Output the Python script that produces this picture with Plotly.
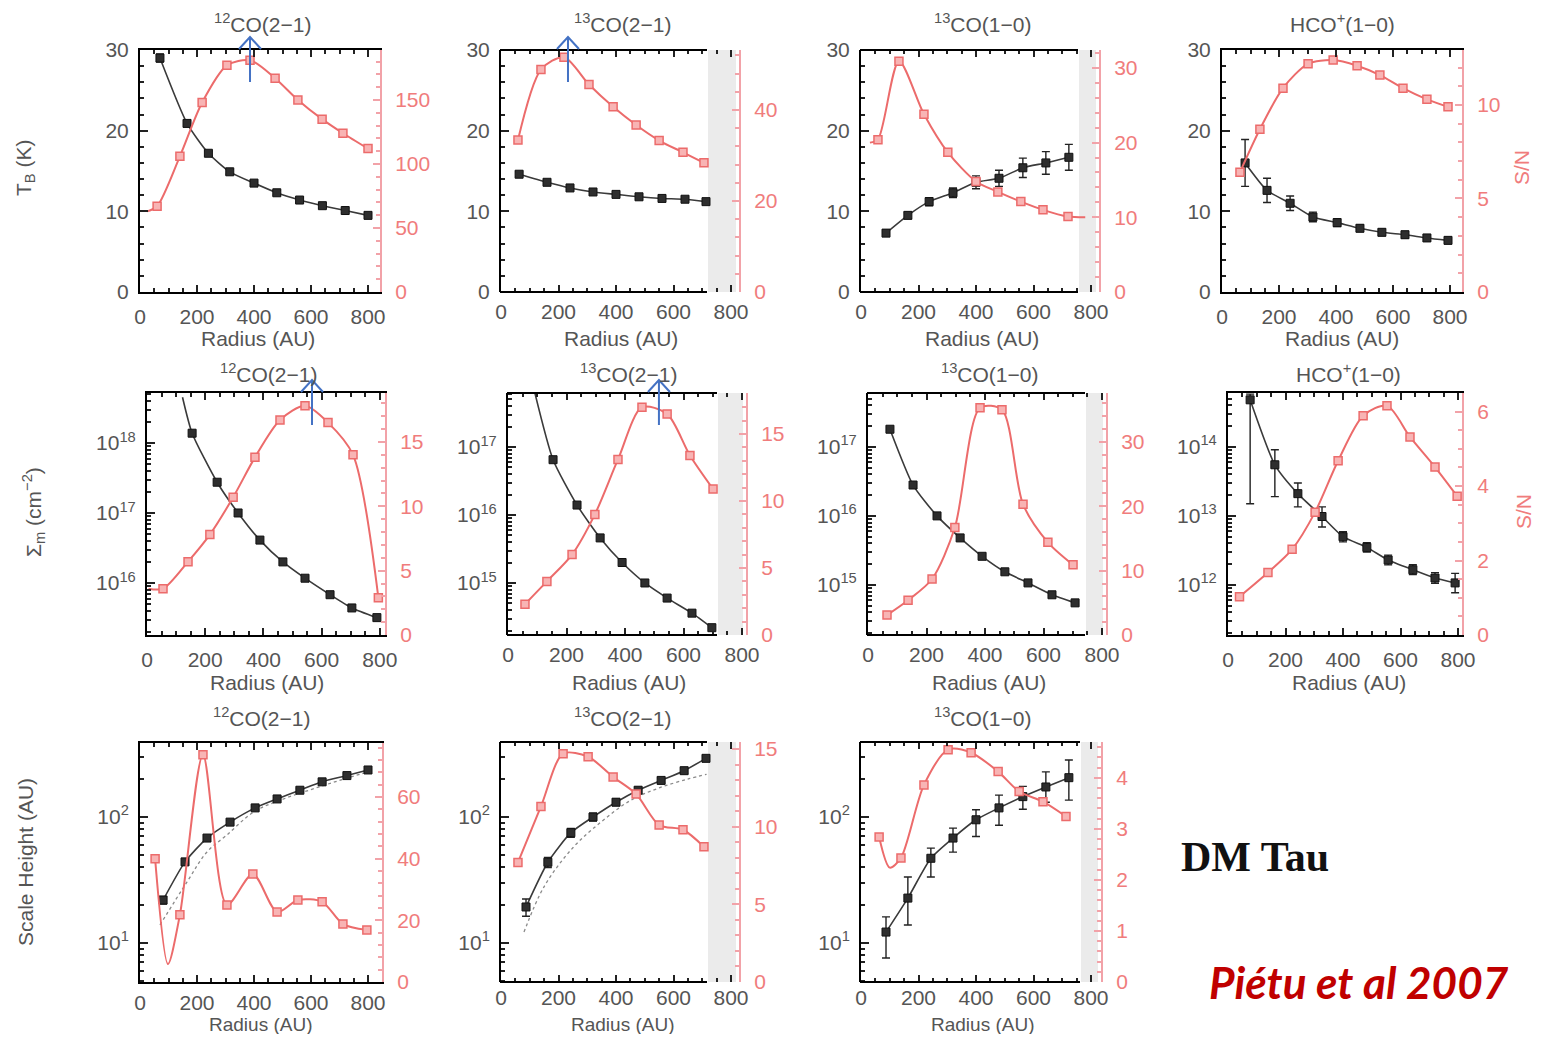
import plotly.graph_objects as go

W, H = 1544, 1042
OFF = 8                      # browser body margin
FW, FH = W - 2 * OFF, H - 2 * OFF

# ---------------- data ----------------
# Row 1 : brightness temperature T_B (K) (black) and S/N (red) vs radius (AU)
p1_r  = [70, 165, 240, 315, 400, 480, 560, 640, 720, 800]
p1_v  = [29.0, 20.9, 17.2, 14.9, 13.5, 12.3, 11.4, 10.7, 10.1, 9.5]
p1_e  = [0.5, 0.4, 0.3, 0.3, 0.3, 0.3, 0.3, 0.3, 0.3, 0.3]
p1_sr = [60, 140, 218, 305, 386, 474, 554, 639, 712, 800]
p1_sn = [67, 106, 148, 177, 181, 167, 150, 135, 124, 112]
p1_cr = [25, 60, 140, 218, 305, 386, 474, 554, 639, 712, 800]
p1_cn = [63, 67, 106, 148, 177, 181, 167, 150, 135, 124, 112]

p2_r  = [63, 160, 240, 320, 400, 480, 560, 640, 713]
p2_v  = [14.6, 13.6, 12.9, 12.4, 12.1, 11.8, 11.6, 11.5, 11.2]
p2_e  = [0.3, 0.3, 0.3, 0.3, 0.3, 0.3, 0.3, 0.3, 0.3]
p2_sr = [59, 139, 219, 306, 390, 470, 550, 633, 706]
p2_sn = [33.4, 48.9, 51.6, 45.6, 40.7, 36.7, 33.3, 30.7, 28.4]

p3_r  = [87, 163, 237, 320, 400, 480, 563, 643, 723]
p3_v  = [7.3, 9.5, 11.2, 12.3, 13.6, 14.1, 15.4, 16.0, 16.7]
p3_e  = [0.4, 0.4, 0.5, 0.6, 0.8, 1.0, 1.2, 1.4, 1.6]
p3_sr = [59, 132, 219, 302, 400, 476, 556, 633, 720]
p3_sn = [20.4, 30.9, 23.8, 18.7, 14.8, 13.4, 12.1, 11.0, 10.1]
p3_cr = [31, 59, 132, 219, 302, 400, 476, 556, 633, 720, 780]
p3_cn = [20.0, 20.4, 30.9, 23.8, 18.7, 14.8, 13.4, 12.1, 11.0, 10.1, 10.0]

p4_r  = [81, 158, 239, 319, 404, 484, 561, 642, 719, 793]
p4_v  = [16.0, 12.6, 11.0, 9.3, 8.6, 7.9, 7.4, 7.1, 6.7, 6.4]
p4_e  = [2.9, 1.5, 0.9, 0.6, 0.5, 0.4, 0.4, 0.4, 0.4, 0.4]
p4_sr = [63, 133, 214, 302, 390, 474, 554, 635, 719, 793]
p4_sn = [6.4, 8.7, 10.9, 12.2, 12.4, 12.1, 11.6, 10.9, 10.3, 9.9]

# Row 2 : surface density Sigma (cm^-2) (black, log) and S/N (red)
p5_r  = [155, 241, 313, 388, 467, 543, 629, 704, 790]
p5_v  = [1.38e18, 2.75e17, 1.0e17, 4.1e16, 2.0e16, 1.17e16, 6.8e15, 4.4e15, 3.2e15]
p5_br = [122, 155, 241, 313, 388, 467, 543, 629, 704, 790]
p5_bv = [4.5e18, 1.38e18, 2.75e17, 1.0e17, 4.1e16, 2.0e16, 1.17e16, 6.8e15, 4.4e15, 3.2e15]
p5_sr = [55, 141, 216, 296, 371, 457, 543, 622, 708, 795]
p5_sn = [3.6, 5.7, 7.8, 10.7, 13.8, 16.7, 17.8, 16.5, 14.0, 2.9]
p5_cr = [5, 55, 141, 216, 296, 371, 457, 543, 622, 708, 795]
p5_cn = [3.6, 3.6, 5.7, 7.8, 10.7, 13.8, 16.7, 17.8, 16.5, 14.0, 2.9]

p6_r  = [154, 236, 315, 390, 468, 544, 629, 697]
p6_v  = [6.5e16, 1.4e16, 4.6e15, 2.0e15, 1.0e15, 6.0e14, 3.6e14, 2.2e14]
p6_br = [92, 154, 236, 315, 390, 468, 544, 629, 697]
p6_bv = [6.2e17, 6.5e16, 1.4e16, 4.6e15, 2.0e15, 1.0e15, 6.0e14, 3.6e14, 2.2e14]
p6_sr = [58, 133, 219, 297, 376, 458, 544, 622, 701]
p6_sn = [2.3, 4.0, 6.0, 9.0, 13.1, 17.0, 16.5, 13.4, 10.9]

p7_r  = [75, 154, 236, 315, 390, 468, 547, 629, 708]
p7_v  = [1.8e17, 2.8e16, 1.0e16, 4.8e15, 2.6e15, 1.55e15, 1.07e15, 7.2e14, 5.5e14]
p7_sr = [65, 137, 219, 297, 383, 458, 530, 615, 701]
p7_sn = [3.1, 5.4, 8.7, 16.7, 35.3, 35.0, 20.3, 14.4, 10.9]

p8_r  = [77, 163, 243, 327, 400, 483, 557, 643, 720, 790]
p8_v  = [4.8e14, 5.5e13, 2.1e13, 9.8e12, 5.0e12, 3.5e12, 2.3e12, 1.66e12, 1.26e12, 1.07e12]
p8_ep = [1.0e14, 3.6e13, 0.9e13, 3.7e12, 0.9e12, 0.6e12, 0.4e12, 0.3e12, 0.25e12, 0.4e12]
p8_em = [4.65e14, 3.6e13, 0.75e13, 2.9e12, 0.8e12, 0.5e12, 0.35e12, 0.25e12, 0.2e12, 0.3e12]
p8_sr = [40, 139, 223, 303, 383, 470, 553, 633, 720, 797]
p8_sn = [1.03, 1.68, 2.30, 3.30, 4.68, 5.89, 6.16, 5.32, 4.51, 3.73]

# Row 3 : scale height (AU) (black, log) and S/N (red)
p9_r  = [81, 158, 235, 316, 404, 481, 561, 639, 726, 800]
p9_v  = [21.9, 44, 68, 91, 118, 139, 163, 190, 213, 236]
p9_e  = [1.5, 2.5, 3, 3, 4, 4, 5, 5, 6, 6]
p9_mr = [70, 165, 235, 305, 400, 500, 600, 700, 800]
p9_mv = [13.9, 30.5, 52.7, 72, 110, 138, 165, 195, 228]
p9_sr = [53, 140, 221, 305, 396, 481, 554, 639, 712, 796]
p9_sn = [40, 21.8, 73.7, 25, 35, 22.7, 26.6, 26, 18.8, 16.9]
p9_cr = [53, 98, 140, 221, 305, 396, 481, 554, 639, 712, 796]
p9_cn = [40, 5.8, 21.8, 73.7, 25, 35, 22.7, 26.6, 26, 18.8, 16.9]

p10_r  = [87, 163, 243, 320, 400, 477, 557, 637, 713]
p10_v  = [19.3, 43.7, 75, 100, 131, 163, 195, 233, 292]
p10_e  = [3, 4, 6, 7, 8, 9, 10, 12, 15]
p10_mr = [80, 150, 250, 350, 450, 550, 650, 715]
p10_mv = [12.2, 28, 57, 92, 135, 170, 200, 218]
p10_sr = [59, 139, 216, 303, 390, 470, 550, 633, 706]
p10_sn = [7.7, 11.3, 14.7, 14.5, 13.2, 12.1, 10.1, 9.8, 8.7]

p11_r  = [87, 163, 243, 320, 400, 480, 563, 643, 723]
p11_v  = [12.2, 22.7, 47, 68, 95, 118, 145, 173, 205]
p11_ep = [3.9, 10.7, 9.6, 13.6, 19, 31, 30, 55, 78]
p11_em = [4.6, 8.8, 13.6, 15.4, 25, 32, 30, 42, 69]
p11_sr = [63, 139, 219, 303, 383, 477, 550, 633, 713]
p11_sn = [2.84, 2.43, 3.86, 4.55, 4.49, 4.12, 3.73, 3.53, 3.24]
p11_cr = [63, 100, 139, 219, 303, 383, 477, 550, 633, 713]
p11_cn = [2.84, 2.24, 2.43, 3.86, 4.55, 4.49, 4.12, 3.73, 3.53, 3.24]

# tick labels / titles
x_ticks = [0, 200, 400, 600, 800]
titles = ["<sup>12</sup>CO(2−1)", "<sup>13</sup>CO(2−1)", "<sup>13</sup>CO(1−0)", "HCO<sup>+</sup>(1−0)"]
# blue arrows marking the S/N peaks (panel, radius AU)
arrow_panel = [1, 2, 5, 6]
arrow_r = [386, 233, 567, 516]

# ---------------- styling ----------------
RED = "#ec6b6b"
RED_FILL = "#f8b4b4"
RED_TXT = "#f07c7c"
RED_AX = "#f2a2a8"
TXT = "#555555"
FONT = "Liberation Sans"
FS = 21


def px(x):
    return (x - OFF) / FW


def py(y):
    return 1 - (y - OFF) / FH


def sup(n):
    return "10<sup>%d</sup>" % n


panels = [
    dict(t=titles[0], tp=(262, 23), fx=(140, 380), fy=(50, 292), sc=0.285, red=None, rl=(258, 338), rs=FS, xso=5,
         log=False, yl=[0, 30], ytv=[0, 10, 20, 30], ymin=2, yr=[0, 189], rtv=[0, 50, 100, 150], rmin=10,
         b=(p1_r, p1_v, p1_e, None), bc=None, m=None, s=(p1_sr, p1_sn), c=(p1_cr, p1_cn)),
    dict(t=titles[1], tp=(622, 23), fx=(501, 707), fy=(50, 292), sc=0.2875, red=740, rl=(621, 338), rs=FS, xso=5,
         log=False, yl=[0, 30], ytv=[0, 10, 20, 30], ymin=2, yr=[0, 53.2], rtv=[0, 20, 40], rmin=4,
         b=(p2_r, p2_v, p2_e, None), bc=None, m=None, s=(p2_sr, p2_sn), c=None),
    dict(t=titles[2], tp=(982, 23), fx=(861, 1078), fy=(50, 292), sc=0.2875, red=1100, rl=(982, 338), rs=FS, xso=5,
         log=False, yl=[0, 30], ytv=[0, 10, 20, 30], ymin=2, yr=[0, 32.4], rtv=[0, 10, 20, 30], rmin=2,
         b=(p3_r, p3_v, p3_e, None), bc=None, m=None, s=(p3_sr, p3_sn), c=(p3_cr, p3_cn)),
    dict(t=titles[3], tp=(1342, 23), fx=(1222, 1462), fy=(50, 292), sc=0.285, red=None, rl=(1342, 338), rs=FS, xso=5,
         log=False, yl=[0, 30], ytv=[0, 10, 20, 30], ymin=2, yr=[0, 12.94], rtv=[0, 5, 10], rmin=1,
         b=(p4_r, p4_v, p4_e, None), bc=None, m=None, s=(p4_sr, p4_sn), c=None),
    dict(t=titles[0], tp=(268, 373), fx=(147, 385), fy=(393, 635), sc=0.291, red=None, rl=(267, 682), rs=FS, xso=5,
         log=True, yl=[15.257, 18.714], dec=[16, 17, 18], yr=[0, 18.8], rtv=[0, 5, 10, 15], rmin=1,
         b=(p5_r, p5_v, None, None), bc=(p5_br, p5_bv), m=None, s=(p5_sr, p5_sn), c=(p5_cr, p5_cn)),
    dict(t=titles[1], tp=(628, 373), fx=(508, 717), fy=(393, 635), sc=0.2925, red=747, rl=(629, 682), rs=FS, xso=5,
         log=True, yl=[14.235, 17.794], dec=[15, 16, 17], yr=[0, 18.06], rtv=[0, 5, 10, 15], rmin=1,
         b=(p6_r, p6_v, None, None), bc=(p6_br, p6_bv), m=None, s=(p6_sr, p6_sn), c=None),
    dict(t=titles[2], tp=(989, 373), fx=(868, 1085), fy=(393, 635), sc=0.2925, red=1107, rl=(989, 682), rs=FS, xso=5,
         log=True, yl=[14.275, 17.78], dec=[15, 16, 17], yr=[0, 37.6], rtv=[0, 10, 20, 30], rmin=2,
         b=(p7_r, p7_v, None, None), bc=None, m=None, s=(p7_sr, p7_sn), c=None),
    dict(t=titles[3], tp=(1348, 373), fx=(1228, 1462), fy=(393, 635), sc=0.2875, red=None, rl=(1349, 682), rs=FS, xso=5,
         log=True, yl=[11.275, 14.78], dec=[12, 13, 14], yr=[0, 6.5], rtv=[0, 2, 4, 6], rmin=0.5,
         b=(p8_r, p8_v, p8_ep, p8_em), bc=None, m=None, s=(p8_sr, p8_sn), c=None),
    dict(t=titles[0], tp=(261, 717), fx=(140, 382), fy=(743, 982), sc=0.285, red=None, rl=(260, 1024), rs=19, xso=1,
         log=True, yl=[0.69, 2.587], dec=[1, 2], yr=[0, 77.5], rtv=[0, 20, 40, 60], rmin=4,
         b=(p9_r, p9_v, p9_e, None), bc=None, m=(p9_mr, p9_mv), s=(p9_sr, p9_sn), c=(p9_cr, p9_cn)),
    dict(t=titles[1], tp=(622, 717), fx=(501, 707), fy=(742, 982), sc=0.2875, red=740, rl=(622, 1024), rs=19, xso=1,
         log=True, yl=[0.69, 2.595], dec=[1, 2], yr=[0, 15.45], rtv=[0, 5, 10, 15], rmin=1,
         b=(p10_r, p10_v, p10_e, None), bc=None, m=(p10_mr, p10_mv), s=(p10_sr, p10_sn), c=None),
    dict(t=titles[2], tp=(982, 717), fx=(861, 1080), fy=(742, 982), sc=0.2875, red=1102, rl=(982, 1024), rs=19, xso=1,
         log=True, yl=[0.69, 2.595], dec=[1, 2], yr=[0, 4.7], rtv=[0, 1, 2, 3, 4], rmin=0.2,
         b=(p11_r, p11_v, p11_ep, p11_em), bc=None, m=None, s=(p11_sr, p11_sn), c=(p11_cr, p11_cn)),
]

fig = go.Figure()
layout = {}
annotations = []
shapes = []
N = len(panels)


def note(text, x, y, size=FS, color=TXT, family=FONT, angle=0):
    return dict(text=text, x=px(x), y=py(y), xref="paper", yref="paper", xanchor="center",
                yanchor="middle", showarrow=False, textangle=angle,
                font=dict(family=family, size=size, color=color))


for k, p in enumerate(panels):
    i = k + 1
    xa = "xaxis" if i == 1 else "xaxis%d" % i
    xr_ = "x" if i == 1 else "x%d" % i
    yl_ = "y" if i == 1 else "y%d" % i
    yr_id = i + N
    yr_ = "y%d" % yr_id
    fx0, fx1 = p["fx"]
    fy0, fy1 = p["fy"]
    right_px = p["red"] if p["red"] else fx1
    xmax = (right_px - fx0) / p["sc"]
    offset = p["red"] is not None

    tickfont = dict(family=FONT, size=FS, color=TXT)
    layout[xa] = dict(
        domain=[px(fx0), px(right_px)], anchor=yl_, range=[0, xmax], automargin=False,
        showline=not offset, linecolor="black", linewidth=2, mirror="ticks",
        ticks="inside", ticklen=7, tickwidth=1.5, tickcolor="#222",
        tickvals=x_ticks, ticktext=[str(v) for v in x_ticks],
        minor=dict(dtick=50, tick0=0, ticks="inside", ticklen=4, tickcolor="#222", showgrid=False),
        showgrid=False, zeroline=False, tickfont=tickfont, ticklabelstandoff=p["xso"])
    if offset:
        for yy in (fy0, fy1):
            shapes.append(dict(type="line", xref="paper", yref="paper",
                               x0=px(fx0 - 1), x1=px(fx1), y0=py(yy), y1=py(yy),
                               line=dict(color="black", width=2)))
        shapes.append(dict(type="rect", xref="paper", yref="paper", layer="below",
                           x0=px(fx1 + 1), x1=px(right_px - 4), y0=py(fy1), y1=py(fy0),
                           fillcolor="#ebebeb", line=dict(width=0)))

    ya = dict(domain=[py(fy1), py(fy0)], anchor=xr_, showline=True, linecolor="black", linewidth=2,
              ticks="inside", ticklen=8, tickwidth=1.5, tickcolor="#222", showgrid=False, automargin=False,
              zeroline=False, tickfont=tickfont, ticklabelstandoff=5)
    if p["log"]:
        ya.update(type="log", range=p["yl"], tickvals=[10.0 ** d for d in p["dec"]],
                  ticktext=[sup(d) for d in p["dec"]])
        lo, hi = int(p["yl"][0]) - 1, int(p["yl"][1]) + 1
        mv = [float(m) * 10.0 ** d for d in range(lo, hi + 1) for m in range(2, 10)]
        ya["minor"] = dict(tickvals=mv, ticks="inside", ticklen=4, tickcolor="#222", showgrid=False)
    else:
        ya.update(type="linear", range=p["yl"], tickvals=p["ytv"],
                  minor=dict(dtick=p["ymin"], tick0=0, ticks="inside", ticklen=4, tickcolor="#222", showgrid=False))
    layout[yl_.replace("y", "yaxis")] = ya

    yra = dict(overlaying=yl_, side="right", range=p["yr"], tickvals=p["rtv"], automargin=False,
               showline=True, linecolor=RED_AX, linewidth=2, ticks="inside", ticklen=7,
               tickwidth=1.5, tickcolor=RED_AX, showgrid=False, zeroline=False,
               minor=dict(dtick=p["rmin"], tick0=0, ticks="inside", ticklen=4, tickcolor=RED_AX, showgrid=False),
               tickfont=dict(family=FONT, size=FS, color=RED_TXT), ticklabelstandoff=9)
    if offset:
        yra.update(anchor="free", position=px(right_px))
    else:
        yra.update(anchor=xr_)
    layout["yaxis%d" % yr_id] = yra

    # red S/N curve and markers
    cx, cy = p["c"] if p["c"] else p["s"]
    fig.add_trace(go.Scatter(x=cx, y=cy, xaxis=xr_, yaxis=yr_, mode="lines",
                             line=dict(color=RED, width=2, shape="spline", smoothing=0.8),
                             hoverinfo="skip"))
    fig.add_trace(go.Scatter(x=p["s"][0], y=p["s"][1], xaxis=xr_, yaxis=yr_, mode="markers",
                             marker=dict(symbol="square", size=8, color=RED_FILL,
                                         line=dict(color=RED, width=1.5))))
    # dotted model curve
    if p["m"]:
        fig.add_trace(go.Scatter(x=p["m"][0], y=p["m"][1], xaxis=xr_, yaxis=yl_, mode="lines",
                                 line=dict(color="#8a8a8a", width=1.3, dash="dot", shape="spline")))
    # black curve
    bx, bv, be, bem = p["b"]
    lx, lv = p["bc"] if p["bc"] else (bx, bv)
    fig.add_trace(go.Scatter(x=lx, y=lv, xaxis=xr_, yaxis=yl_, mode="lines",
                             line=dict(color="#3a3a3a", width=1.6, shape="spline", smoothing=0.6)))
    err = None
    if be is not None:
        err = dict(type="data", array=be, color="#222", thickness=1.4, width=4)
        if bem is not None:
            err.update(symmetric=False, arrayminus=bem)
    fig.add_trace(go.Scatter(x=bx, y=bv, xaxis=xr_, yaxis=yl_, mode="markers",
                             marker=dict(symbol="square", size=8, color="#2e2e2e",
                                         line=dict(color="#111", width=1)),
                             error_y=err))

    annotations.append(note(p["t"], p["tp"][0], p["tp"][1]))
    annotations.append(note("Radius (AU)", p["rl"][0], p["rl"][1], size=p["rs"]))

# blue arrows
for pi, r in zip(arrow_panel, arrow_r):
    p = panels[pi - 1]
    xr_ = "x" if pi == 1 else "x%d" % pi
    fy0 = p["fy"][0]
    tail, tip = fy0 + 32, fy0 - 13
    hw = 11 / p["sc"]
    path = "M %f,%f L %f,%f M %f,%f L %f,%f L %f,%f" % (
        r, py(tail), r, py(tip), r - hw, py(tip + 12), r, py(tip), r + hw, py(tip + 12))
    shapes.append(dict(type="path", xref=xr_, yref="paper", path=path,
                       line=dict(color="#4472c4", width=2)))

# axis titles
annotations += [
    note("T<sub>B</sub> (K)", 25, 168, angle=-90),
    note("Σ<sub>m</sub> (cm<sup>−2</sup>)", 33, 512, angle=-90),
    note("Scale Height (AU)", 25, 862, angle=-90),
    note("S/N", 1521, 168, color=RED_TXT, angle=-90),
    note("S/N", 1523, 512, color=RED_TXT, angle=-90),
    note("<b>DM Tau</b>", 1255, 857, size=42, color="#111", family="Liberation Serif"),
    note("<b><i>Piétu et al 2007</i></b>", 1359, 982, size=44, color="#c00000", family="Lato"),
]

layout.update(width=FW, height=FH, autosize=False,
              margin=dict(l=0, r=0, t=0, b=0, pad=0, autoexpand=False),
              paper_bgcolor="white", plot_bgcolor="rgba(0,0,0,0)", showlegend=False,
              annotations=annotations, shapes=shapes)
fig.update_layout(layout)
fig.write_html("out.html", config={"displayModeBar": False, "responsive": False})
